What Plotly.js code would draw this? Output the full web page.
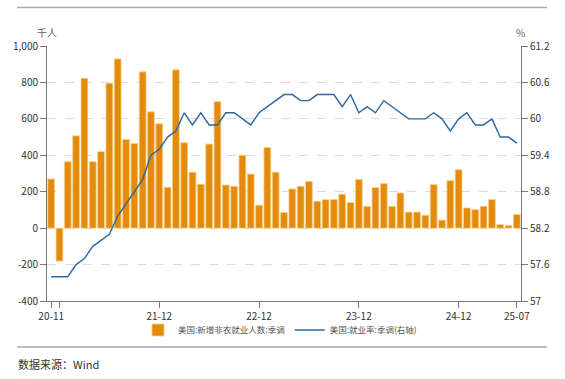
<!DOCTYPE html>
<html>
<head>
<meta charset="utf-8">
<script src="https://cdn.plot.ly/plotly-3.0.1.min.js"></script>
<style>html,body{margin:0;padding:0;background:#fff;}#chart{width:565px;height:379px;}</style>
</head>
<body>
<div id="chart"></div>
<script>
const months = ['20-11','20-12','21-01','21-02','21-03','21-04','21-05','21-06','21-07','21-08','21-09','21-10','21-11','21-12',
'22-01','22-02','22-03','22-04','22-05','22-06','22-07','22-08','22-09','22-10','22-11','22-12',
'23-01','23-02','23-03','23-04','23-05','23-06','23-07','23-08','23-09','23-10','23-11','23-12',
'24-01','24-02','24-03','24-04','24-05','24-06','24-07','24-08','24-09','24-10','24-11','24-12',
'25-01','25-02','25-03','25-04','25-05','25-06','25-07'];
const payrolls = [270,-181,365,507,823,365,420,796,929,487,465,858,639,573,
224,869,469,307,241,462,695,237,230,400,297,126,
443,307,86,215,230,257,148,157,157,186,141,268,
120,223,245,120,193,88,88,71,239,44,261,321,
111,102,120,157,20,15,75];
const empRate = [57.4,57.4,57.4,57.6,57.7,57.9,58.0,58.1,58.4,58.6,58.8,59.0,59.4,59.5,
59.7,59.8,60.1,59.9,60.1,59.9,59.9,60.1,60.1,60.0,59.9,60.1,
60.2,60.3,60.4,60.4,60.3,60.3,60.4,60.4,60.4,60.2,60.4,60.1,
60.2,60.1,60.3,60.2,60.1,60.0,60.0,60.0,60.1,60.0,59.8,60.0,
60.1,59.9,59.9,60.0,59.7,59.7,59.6];
const xTickVals = ['20-11','20-12','21-12','22-12','23-12','24-12','25-07'];
const xTickText = ['20-11','','21-12','22-12','23-12','24-12','25-07'];
const leftTickVals = [-400,-200,0,200,400,600,800,1000];
const leftTickText = ['-400','-200','0','200','400','600','800','1,000'];
const rightTickVals = [57,57.6,58.2,58.8,59.4,60,60.6,61.2];
const rightTickText = ['57','57.6','58.2','58.8','59.4','60','60.6','61.2'];
const seriesNames = ['美国:新增非农就业人数:季调','美国:就业率:季调(右轴)'];

const W = 565, H = 379;
const M = {l:47, r:44, t:46, b:78};
const pw = W - M.l - M.r, ph = H - M.t - M.b;
const px = x => (x - M.l) / pw;
const py = y => (H - M.b - y) / ph;

const font = 'Noto Sans CJK SC, Noto Sans, sans-serif';
const axisCol = '#777';

const traces = [
  {type:'bar', x:months, y:payrolls, name:seriesNames[0],
   marker:{color:'#E38B0C', line:{color:'#F8D28C', width:0.8}}, yaxis:'y'},
  {type:'scatter', mode:'lines', x:months, y:empRate, name:seriesNames[1],
   line:{color:'#2C669F', width:1.4}, yaxis:'y2'}
];

const layout = {
  width:W, height:H, margin:M, paper_bgcolor:'#fff', plot_bgcolor:'#fff',
  font:{family:font, size:10, color:'#333'},
  bargap:0.18, showlegend:true,
  legend:{orientation:'h', x:px(280), xanchor:'center', y:py(330), yanchor:'middle',
          font:{size:8.5, color:'#555'}, itemwidth:30, tracegroupgap:0, bgcolor:'rgba(0,0,0,0)'},
  xaxis:{type:'category', tickvals:xTickVals, ticktext:xTickText, ticks:'outside', ticklen:6,
         tickcolor:axisCol, showline:true, linecolor:axisCol, linewidth:1, showgrid:false,
         tickfont:{size:10, color:'#333'}, range:[-0.5, months.length-0.5]},
  yaxis:{range:[-400,1000], tickvals:leftTickVals, ticktext:leftTickText, ticks:'outside', ticklen:6,
         tickcolor:axisCol, showline:true, linecolor:axisCol, linewidth:1,
         showgrid:true, gridcolor:'#dcdcdc', griddash:'dash', gridwidth:1, zeroline:false,
         tickfont:{size:10, color:'#333'}},
  yaxis2:{range:[57,61.2], overlaying:'y', side:'right', tickvals:rightTickVals, ticktext:rightTickText,
          ticks:'outside', ticklen:6, tickcolor:axisCol, showline:true, linecolor:axisCol, linewidth:1,
          showgrid:false, zeroline:false, tickfont:{size:10, color:'#333'}},
  shapes:[
    {type:'line', xref:'paper', yref:'paper', x0:px(17), x1:px(547), y0:py(7.5), y1:py(7.5), line:{color:'#aaa', width:1.5}},
    {type:'line', xref:'paper', yref:'paper', x0:px(17), x1:px(547), y0:py(347), y1:py(347), line:{color:'#aaa', width:1.5}}
  ],
  annotations:[
    {text:'千人', xref:'paper', yref:'paper', x:px(46.5), y:py(33), xanchor:'center', yanchor:'middle', showarrow:false, font:{size:10, color:'#666'}},
    {text:'%', xref:'paper', yref:'paper', x:px(520), y:py(33), xanchor:'center', yanchor:'middle', showarrow:false, font:{size:10, color:'#666'}},
    {text:'数据来源：Wind', xref:'paper', yref:'paper', x:px(16), y:py(364), xanchor:'left', yanchor:'middle', showarrow:false, font:{size:11, color:'#333'}}
  ]
};

Plotly.newPlot('chart', traces, layout, {displayModeBar:false, staticPlot:true});
</script>
</body>
</html>
